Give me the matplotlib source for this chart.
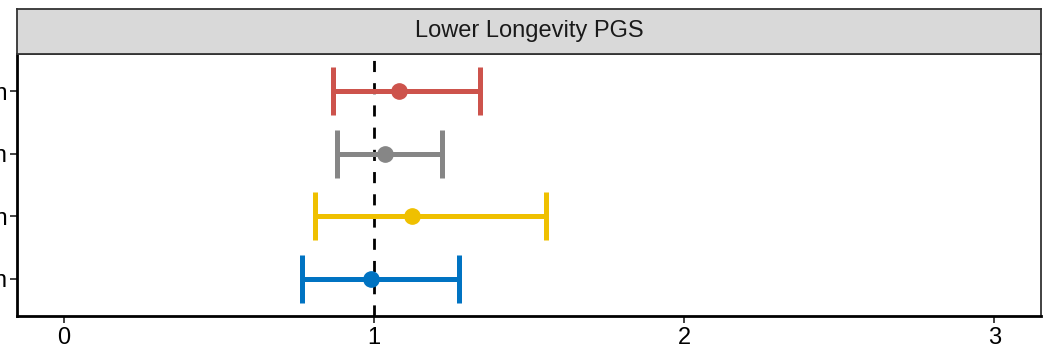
import matplotlib
matplotlib.use("Agg")
from matplotlib import pyplot as plt

plt.rcParams['font.family'] = ['Liberation Sans', 'DejaVu Sans']

# groups from bottom to top (labels are cut off on the left in the reference)
groups = ["Model 4: Black women", "Model 3: White women", "Model 2: Black men", "Model 1: White men"]
estimate = [0.99, 1.123, 1.036, 1.082]
lower = [0.770, 0.810, 0.880, 0.869]
upper = [1.275, 1.555, 1.219, 1.343]
colors = ["#0073C2", "#EFC000", "#868686", "#CD534C"]
xticks = [0, 1, 2, 3]
facet_title = "Lower Longevity PGS"

W, H = 1050, 359
fig = plt.figure(figsize=(W / 100, H / 100), dpi=100)

# panel and strip positions in pixels
pl, pr, pt, pb = 17, 1041, 54, 316
st = 9
ax = fig.add_axes([pl / W, (H - pb) / H, (pr - pl) / W, (pb - pt) / H])
strip = fig.add_axes([pl / W, (H - pt) / H, (pr - pl) / W, (pt - st) / H])

ys = list(range(1, len(groups) + 1))
ax.axvline(1, color="black", lw=2, ls=(0, (4, 4)), zorder=1)
for y, est, lo, hi, c in zip(ys, estimate, lower, upper, colors):
    ax.errorbar(est, y, xerr=[[est - lo], [hi - est]], fmt="o", color=c,
                ms=11, elinewidth=3.6, capsize=17, capthick=3.6, zorder=3)

ax.set_xlim(-0.15, 3.15)
ax.set_ylim(0.4, 4.6)
ax.set_xticks(xticks)
ax.set_xticklabels([str(t) for t in xticks], fontsize=17)
ax.set_yticks(ys)
ax.set_yticklabels(groups, fontsize=17)
ax.tick_params(axis="both", length=5, width=1.3, color="#333333", pad=2)
ax.tick_params(axis="x", pad=3)

for side in ["top", "right"]:
    ax.spines[side].set_color("#333333")
    ax.spines[side].set_linewidth(1.3)
for side in ["left", "bottom"]:
    ax.spines[side].set_color("black")
    ax.spines[side].set_linewidth(2)

strip.set_facecolor("#D9D9D9")
strip.set_xticks([])
strip.set_yticks([])
for s in strip.spines.values():
    s.set_color("#333333")
    s.set_linewidth(1.3)
strip.text(0.5, 0.5, facet_title, ha="center", va="center", fontsize=17, color="#1A1A1A")

fig.savefig("out.png", dpi=100)
